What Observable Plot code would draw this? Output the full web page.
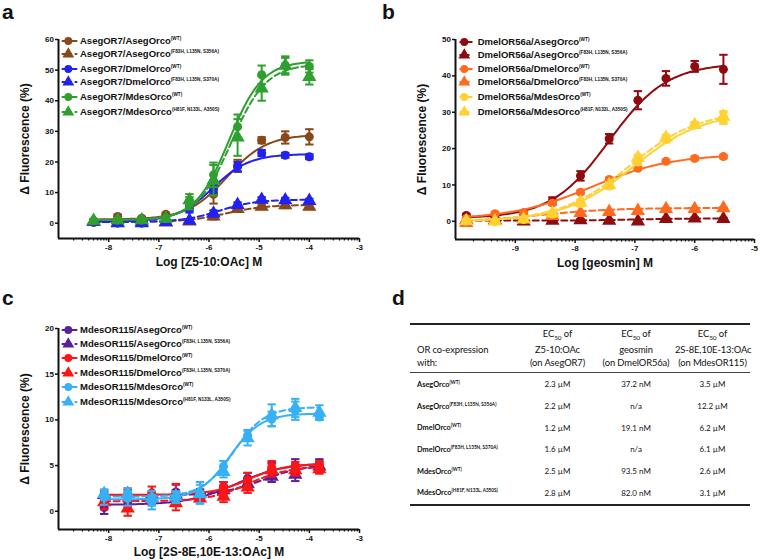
<!DOCTYPE html>
<html><head><meta charset="utf-8">
<script src="https://cdn.jsdelivr.net/npm/d3@7"></script>
<script src="https://cdn.jsdelivr.net/npm/@observablehq/plot@0.6"></script>
<style>
body{margin:0;background:#fff;}
#root{position:relative;width:760px;height:560px;overflow:hidden;font-family:"Liberation Sans",Arial,sans-serif;color:#111;}
.panel{position:absolute;}
#overlay{position:absolute;left:0;top:0;pointer-events:none;}
svg [aria-label="x-axis label"], svg [aria-label="y-axis label"]{font-size:12px;}
#tbl{position:absolute;left:410px;top:323px;width:340px;border-collapse:collapse;font-family:Lato,"Open Sans",sans-serif;color:#111;table-layout:fixed;}
#tbl th{font-weight:normal;font-size:9.4px;line-height:12.5px;padding:3px 0 3px 0;border-top:2.5px solid #222;border-bottom:1px solid #444;text-align:center;vertical-align:bottom;white-space:nowrap;letter-spacing:-0.1px;}
#tbl th.first{text-align:left;padding-left:7px;}
#tbl td{height:21.7px;padding:0;font-size:8px;text-align:center;vertical-align:middle;white-space:nowrap;}
#tbl td.first{text-align:left;padding-left:7px;font-weight:bold;font-size:7.4px;}
#tbl td.first sup{font-size:4.7px;}
#tbl tr:last-child td{border-bottom:2.5px solid #222;}
#tbl sub{font-size:6.5px;}
</style></head>
<body><div id="root"></div>
<script>
// ---------- table data (panel d) ----------
const orcoLabels = ["AsegOrco","AsegOrco","DmelOrco","DmelOrco","MdesOrco","MdesOrco"];
const orcoVariants = ["(WT)","(F83H, L135N, S356A)","(WT)","(F83H, L135N, S370A)","(WT)","(H81F, N133L, A350S)"];
const ec50Z5 = ["2.3 µM","2.2 µM","1.2 µM","1.6 µM","2.5 µM","2.8 µM"];
const ec50Geosmin = ["37.2 nM","n/a","19.1 nM","n/a","93.5 nM","82.0 nM"];
const ec50Mdes = ["3.5 µM","12.2 µM","6.2 µM","6.1 µM","2.6 µM","3.1 µM"];

// ---------- panel a: AsegOR7, Z5-10:OAc ----------
const aLogConc = [-8.30,-7.82,-7.34,-6.86,-6.39,-5.91,-5.43,-4.95,-4.48,-4.00];
const aY = [
  [0.2, 2.2, 1.6, 2.9, 6.0, 9.4, 18.7, 27.1, 28.0, 28.2],
  [0.5, 0.2, 0.5, 0.3, 0.6, 2.2, 4.7, 5.4, 5.9, 5.4],
  [0.5, 0.0, 0.0, 0.5, 4.5, 11.0, 18.5, 22.9, 22.2, 21.7],
  [0.5, 0.0, 0.0, 0.4, 0.8, 3.2, 6.0, 7.7, 7.5, 7.3],
  [0.8, 1.0, 1.0, 1.5, 6.5, 15.8, 31.5, 48.5, 51.5, 51.2],
  [0.8, 1.0, 1.0, 1.5, 7.5, 14.0, 28.0, 44.0, 51.5, 47.8]
];
const aErr = [
  [0.5, 0.6, 0.5, 0.5, 1.5, 3.0, 2.0, 1.0, 2.0, 2.5],
  [0.3, 0.3, 0.3, 0.3, 0.5, 1.0, 1.0, 0.8, 1.0, 0.8],
  [0.5, 0.5, 0.5, 0.5, 1.0, 1.0, 1.5, 1.0, 0.8, 0.8],
  [0.3, 0.3, 0.3, 0.3, 0.5, 1.0, 0.8, 0.8, 0.8, 0.7],
  [0.5, 0.5, 0.5, 0.5, 2.0, 4.0, 4.0, 3.0, 3.0, 2.0],
  [0.5, 0.5, 0.5, 0.5, 2.0, 5.0, 6.0, 4.0, 2.5, 2.5]
];
const aBottom = [1.2, 0.4, 0.5, 0.4, 1.0, 1.0];
const aTop = [29.0, 6.0, 22.6, 7.7, 53.0, 52.0];
const aHill = [1.1, 1.1, 1.2, 1.2, 1.3, 1.25];
const aColors = ["#8a4719","#8a4719","#2121f2","#2121f2","#2fa02f","#2fa02f"];

// ---------- panel b: DmelOR56a, geosmin ----------
const bLogConc = [-9.82,-9.34,-8.86,-8.38,-7.91,-7.43,-6.95,-6.48,-6.00,-5.52];
const bY = [
  [1.6, 0.9, 2.3, 5.6, 12.5, 22.7, 33.3, 39.3, 42.6, 41.8],
  [0.3, 0.3, 0.0, 0.2, 0.3, 0.2, 0.0, 0.7, 0.8, 0.7],
  [0.8, 2.1, 2.3, 5.0, 8.0, 11.5, 14.6, 16.5, 17.3, 17.8],
  [-0.4, 0.2, 0.7, 1.5, 2.3, 2.6, 2.9, 3.4, 3.4, 3.6],
  [0.1, -0.1, 0.5, 2.0, 4.9, 9.7, 16.3, 22.5, 26.5, 28.3],
  [0.1, 0.0, 0.5, 2.2, 5.2, 10.0, 17.5, 23.0, 26.5, 28.8]
];
const bErr = [
  [0.4, 0.3, 0.5, 1.0, 1.3, 1.3, 2.5, 2.0, 1.5, 4.0],
  [0.3, 0.3, 0.3, 0.3, 0.3, 0.3, 0.3, 0.3, 0.3, 0.3],
  [0.4, 0.4, 0.4, 0.5, 0.5, 0.5, 0.5, 0.5, 0.5, 0.5],
  [0.3, 0.3, 0.3, 0.3, 0.3, 0.3, 0.3, 0.3, 0.3, 0.3],
  [0.3, 0.3, 0.4, 0.5, 0.8, 0.8, 0.8, 0.8, 0.8, 1.5],
  [0.3, 0.3, 0.4, 0.5, 0.8, 0.8, 0.8, 0.8, 0.8, 1.5]
];
const bBottom = [0.8, 0.2, 0.5, -0.3, 0.0, 0.0];
const bTop = [43.5, 0.8, 18.5, 3.7, 30.0, 30.5];
const bHill = [0.9, 1.0, 0.65, 0.7, 0.75, 0.75];
const bLogEC50NotReported = [null, -7.0, null, -8.6, null, null];
const bColors = ["#8e0b0f","#8e0b0f","#ff6a1f","#ff6a1f","#ffd132","#ffd132"];

// ---------- panel c: MdesOR115, 2S-8E,10E-13:OAc ----------
const cLogConc = [-8.09,-7.62,-7.14,-6.66,-6.18,-5.71,-5.23,-4.75,-4.28,-3.80];
const cY = [
  [0.4, 1.0, 1.2, 2.1, 1.9, 2.7, 3.6, 4.5, 5.0, 5.1],
  [1.8, 1.9, 1.8, 1.8, 1.9, 2.3, 3.0, 3.8, 4.0, 4.9],
  [1.8, 1.9, 2.0, 1.8, 1.7, 2.6, 3.4, 4.8, 4.9, 5.0],
  [1.0, 0.3, 1.4, 0.9, 1.4, 1.6, 2.6, 4.5, 4.5, 4.6],
  [1.5, 1.4, 1.0, 1.5, 2.0, 4.9, 8.3, 10.1, 11.0, 10.3],
  [1.9, 1.9, 1.4, 1.6, 1.9, 4.3, 8.0, 10.5, 11.3, 10.8]
];
const cErr = [
  [0.7, 0.5, 0.5, 0.8, 0.5, 0.5, 0.6, 0.8, 0.7, 0.6],
  [0.3, 0.4, 0.4, 0.5, 0.4, 0.5, 0.6, 0.6, 0.7, 0.5],
  [0.5, 0.6, 0.7, 1.2, 0.5, 0.6, 0.8, 0.7, 0.5, 0.5],
  [0.8, 0.8, 0.6, 0.8, 0.4, 0.6, 0.6, 0.7, 0.6, 0.5],
  [0.8, 0.8, 0.8, 0.6, 1.2, 0.6, 0.6, 0.8, 1.0, 0.3],
  [0.5, 0.6, 0.8, 0.6, 1.0, 0.6, 0.8, 1.2, 1.0, 0.8]
];
const cBottom = [0.7, 1.7, 1.8, 1.1, 1.3, 1.6];
const cTop = [5.3, 5.2, 5.2, 4.9, 10.7, 11.4];
const cHill = [0.9, 1.0, 1.2, 1.1, 1.4, 1.4];
const cColors = ["#5a1f9c","#5a1f9c","#ff1515","#ff1515","#38b0f5","#38b0f5"];

const seriesSymbols = ["circle","triangle","circle","triangle","circle","triangle"];
const seriesDashed = [false, true, false, true, false, true];

const yTicksA = [0,10,20,30,40,50,60];
const yTicksB = [0,10,20,30,40,50];
const yTicksC = [0,5,10,15,20];

// ---------- helpers ----------
function toLogM(s) {
  if (s === "n/a") return null;
  const v = parseFloat(s);
  return Math.log10(v * (s.includes("nM") ? 1e-9 : 1e-6));
}
const cap = {draw(ctx, size) { const w = Math.sqrt(size / Math.PI); ctx.moveTo(-w, 0); ctx.lineTo(w, 0); }};

function buildSeries(ys, errs, bottoms, tops, hills, ec50s, fallback, colors) {
  return ys.map((y, i) => ({
    y, err: errs[i], bottom: bottoms[i], top: tops[i], hill: hills[i],
    logEC50: toLogM(ec50s[i]) ?? fallback[i],
    color: colors[i], symbol: seriesSymbols[i], dashed: seriesDashed[i]
  }));
}

function minorTicks(lo, hi) {
  const t = [];
  for (let n = lo; n < hi; n++) for (let k = 2; k <= 9; k++) t.push(n + Math.log10(k));
  return t;
}

function panel(cfg) {
  const marks = [];
  const [x0, x1] = d3.extent(cfg.x);
  cfg.series.forEach(s => {
    const pts = cfg.x.map((x, j) => ({x, y: s.y[j], lo: s.y[j] - s.err[j], hi: s.y[j] + s.err[j]}));
    const fit = d3.range(0, 121).map(k => {
      const x = x0 + (x1 - x0) * k / 120;
      return {x, y: s.bottom + (s.top - s.bottom) / (1 + Math.pow(10, (s.logEC50 - x) * s.hill))};
    });
    const lineOpts = {x: "x", y: "y", stroke: s.color, strokeWidth: 2};
    if (s.dashed) lineOpts.strokeDasharray = "6,3.5";
    marks.push(Plot.line(fit, lineOpts));
    marks.push(Plot.ruleX(pts, {x: "x", y1: "lo", y2: "hi", stroke: s.color, strokeWidth: 2}));
    marks.push(Plot.dot(pts, {x: "x", y: "hi", symbol: cap, r: 4.2, stroke: s.color, strokeWidth: 2}));
    marks.push(Plot.dot(pts, {x: "x", y: "lo", symbol: cap, r: 4.2, stroke: s.color, strokeWidth: 2}));
    marks.push(Plot.dot(pts, {x: "x", y: "y", symbol: s.symbol, r: s.symbol === "circle" ? 4.5 : 5.3, fill: s.color, stroke: "none"}));
  });
  marks.push(Plot.axisY({ticks: cfg.yTicks, tickSize: 3, tickPadding: 1.5, strokeWidth: 1.5,
    tickFormat: d => String(d), label: "Δ Fluorescence (%)", labelAnchor: "center", labelArrow: "none", labelOffset: cfg.yLabelOffset}));
  marks.push(Plot.axisX({ticks: d3.range(cfg.xDomain[0] + 1, cfg.xDomain[1] + 1), tickSize: 4, tickPadding: 2, strokeWidth: 1.5,
    tickFormat: d => String(d), label: cfg.xLabel, labelAnchor: "center", labelArrow: "none", labelOffset: cfg.xLabelOffset}));
  marks.push(Plot.axisX({ticks: minorTicks(cfg.xDomain[0], cfg.xDomain[1]), tickSize: 2.5, strokeWidth: 1.2, tickFormat: () => "", label: null}));
  marks.push(Plot.ruleX([cfg.xDomain[0]], {strokeWidth: 2}));
  marks.push(Plot.ruleY([cfg.yDomain[0]], {strokeWidth: 2}));
  return Plot.plot({
    width: cfg.width, height: cfg.height,
    marginLeft: cfg.ml, marginRight: cfg.mr, marginTop: cfg.mt, marginBottom: cfg.mb,
    x: {domain: cfg.xDomain}, y: {domain: cfg.yDomain},
    style: {fontFamily: "'Liberation Sans', Arial, sans-serif", fontSize: "8px", fontWeight: "bold", color: "#111", background: "transparent", overflow: "visible"},
    marks
  });
}

const root = document.getElementById("root");
function place(node, left, top) {
  const d = document.createElement("div");
  d.className = "panel"; d.style.left = left + "px"; d.style.top = top + "px";
  d.appendChild(node); root.appendChild(d);
}

place(panel({
  x: aLogConc, series: buildSeries(aY, aErr, aBottom, aTop, aHill, ec50Z5, [null,null,null,null,null,null], aColors),
  xDomain: [-9, -3], yDomain: [-5, 60], yTicks: yTicksA, xLabel: "Log [Z5-10:OAc] M",
  width: 380, height: 270, ml: 58, mr: 21, mt: 39, mb: 32, yLabelOffset: 38, xLabelOffset: 27
}), 0, 0);

place(panel({
  x: bLogConc, series: buildSeries(bY, bErr, bBottom, bTop, bHill, ec50Geosmin, bLogEC50NotReported, bColors),
  xDomain: [-10, -5], yDomain: [-5, 50], yTicks: yTicksB, xLabel: "Log [geosmin] M",
  width: 380, height: 270, ml: 75, mr: 6, mt: 39, mb: 31, yLabelOffset: 38, xLabelOffset: 27
}), 380, 0);

place(panel({
  x: cLogConc, series: buildSeries(cY, cErr, cBottom, cTop, cHill, ec50Mdes, [null,null,null,null,null,null], cColors),
  xDomain: [-9, -3], yDomain: [-2, 20], yTicks: yTicksC, xLabel: "Log [2S-8E,10E-13:OAc] M",
  width: 380, height: 280, ml: 58, mr: 21, mt: 48, mb: 31, yLabelOffset: 38, xLabelOffset: 26
}), 0, 280);

// ---------- overlay: panel letters + legends ----------
const ov = d3.select(root).append("svg").attr("id", "overlay").attr("width", 760).attr("height", 560)
  .style("font-family", "'Liberation Sans', Arial, sans-serif").style("font-weight", "bold");
[["a", 2, 19], ["b", 382, 19], ["c", 2, 305], ["d", 392, 305]].forEach(([t, x, y]) =>
  ov.append("text").attr("x", x).attr("y", y).attr("font-size", 21).attr("fill", "#111").text(t));

function legend(prefix, colors, lx0, mx, lx1, tx, ys) {
  ys.forEach((cy, i) => {
    const g = ov.append("g");
    const ln = g.append("line").attr("x1", lx0).attr("x2", lx1).attr("y1", cy).attr("y2", cy)
      .attr("stroke", colors[i]).attr("stroke-width", 2);
    if (seriesDashed[i]) ln.attr("stroke-dasharray", "3.5,3").attr("stroke-dashoffset", 0);
    const sym = d3.symbol(seriesSymbols[i] === "circle" ? d3.symbolCircle : d3.symbolTriangle,
      Math.PI * (seriesSymbols[i] === "circle" ? 3.9 : 4.4) ** 2);
    g.append("path").attr("d", sym()).attr("transform", `translate(${mx},${cy})`).attr("fill", colors[i]);
    const t = g.append("text").attr("x", tx).attr("y", cy + 3.4).attr("font-size", 9.5).attr("fill", "#111");
    t.append("tspan").text(prefix + orcoLabels[i]);
    t.append("tspan").attr("font-size", 4.7).attr("dy", -4).text(orcoVariants[i]);
  });
}
legend("AsegOR7/", aColors, 61.7, 68.3, 77.3, 80, [41, 54, 69, 82, 97, 112]);
legend("DmelOR56a/", bColors, 459.5, 464.3, 472.5, 477.7, [42, 55, 69, 82, 97, 112]);
legend("MdesOR115/", cColors, 61.7, 68.3, 77.3, 80, [330, 344, 358, 373, 387, 402]);

// ---------- table d ----------
const tbl = d3.select(root).append("table").attr("id", "tbl");
const cg = tbl.append("colgroup");
[108, 79, 78, 75].forEach(w => cg.append("col").style("width", w + "px"));
const hr = tbl.append("thead").append("tr");
hr.append("th").attr("class", "first").html("OR co-expression<br>with:");
[["Z5-10:OAc", "(on AsegOR7)"], ["geosmin", "(on DmelOR56a)"], ["2S-8E,10E-13:OAc", "(on MdesOR115)"]].forEach(([a, b]) =>
  hr.append("th").html(`EC<sub>50</sub> of<br>${a}<br>${b}`));
const tb = tbl.append("tbody");
orcoLabels.forEach((o, i) => {
  const tr = tb.append("tr");
  tr.append("td").attr("class", "first").html(`${o}<sup>${orcoVariants[i]}</sup>`);
  tr.append("td").text(ec50Z5[i]);
  tr.append("td").text(ec50Geosmin[i]);
  tr.append("td").text(ec50Mdes[i]);
});
</script>
</body></html>
